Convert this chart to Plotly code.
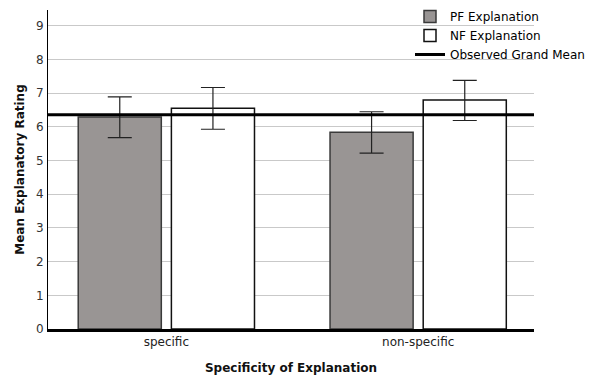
import plotly.graph_objects as go

categories = ["specific", "non-specific"]
pf_means = [6.29, 5.84]
pf_upper = [6.89, 6.45]
pf_lower = [5.68, 5.22]
nf_means = [6.55, 6.80]
nf_upper = [7.17, 7.38]
nf_lower = [5.93, 6.19]
grand_mean = 6.36
y_ticks = [0, 1, 2, 3, 4, 5, 6, 7, 8, 9]

FONT = "DejaVu Sans"

fig = go.Figure()
fig.add_trace(go.Bar(
    x=categories, y=pf_means, name="PF Explanation",
    width=0.33, offset=-0.35,
    marker=dict(color="#999594", line=dict(color="#3a3a3a", width=1.5)),
    error_y=dict(type="data", symmetric=False,
                 array=[u - m for u, m in zip(pf_upper, pf_means)],
                 arrayminus=[m - l for m, l in zip(pf_means, pf_lower)],
                 color="#222222", thickness=1.2, width=12),
))
fig.add_trace(go.Bar(
    x=categories, y=nf_means, name="NF Explanation",
    width=0.33, offset=0.02,
    marker=dict(color="#ffffff", line=dict(color="#111111", width=1.5)),
    error_y=dict(type="data", symmetric=False,
                 array=[u - m for u, m in zip(nf_upper, nf_means)],
                 arrayminus=[m - l for m, l in zip(nf_means, nf_lower)],
                 color="#222222", thickness=1.2, width=12),
))

fig.add_shape(type="line", xref="paper", yref="y", x0=0, x1=1,
              y0=grand_mean, y1=grand_mean,
              line=dict(color="black", width=3),
              showlegend=True, name="Observed Grand Mean", legendrank=1003)

fig.update_layout(
    width=600, height=375,
    margin=dict(l=48, r=66, t=10, b=46, autoexpand=False),
    paper_bgcolor="white", plot_bgcolor="white",
    font=dict(family=FONT, size=12, color="#222222"),
    barmode="overlay",
    showlegend=True,
    legend=dict(x=410 / 600, xref="container", y=1 - 2 / 375, yref="container",
                xanchor="left", yanchor="top",
                font=dict(family=FONT, size=12, color="#000000"),
                bgcolor="rgba(0,0,0,0)", tracegroupgap=0,
                itemwidth=30),
    xaxis=dict(
        range=[-0.47, 1.46], showgrid=False, automargin=False,
        showline=True, linecolor="black", linewidth=3,
        ticks="", tickfont=dict(size=12, color="#222222"),
        title=dict(text="<b>Specificity of Explanation</b>", standoff=16,
                   font=dict(size=12, color="#111111")),
    ),
    yaxis=dict(
        range=[0, 9.47], tickvals=y_ticks, automargin=False,
        showgrid=True, gridcolor="#c9c9c9", gridwidth=1,
        zeroline=False,
        showline=True, linecolor="black", linewidth=1,
        ticks="", ticklabelstandoff=1,
        tickfont=dict(size=12, color="#333333"),
        title=dict(text="<b>Mean Explanatory Rating</b>", standoff=8,
                   font=dict(size=12, color="#111111")),
    ),
)

fig.write_html("out.html", config={"displayModeBar": False},
               post_script="document.body.style.margin='0';")
